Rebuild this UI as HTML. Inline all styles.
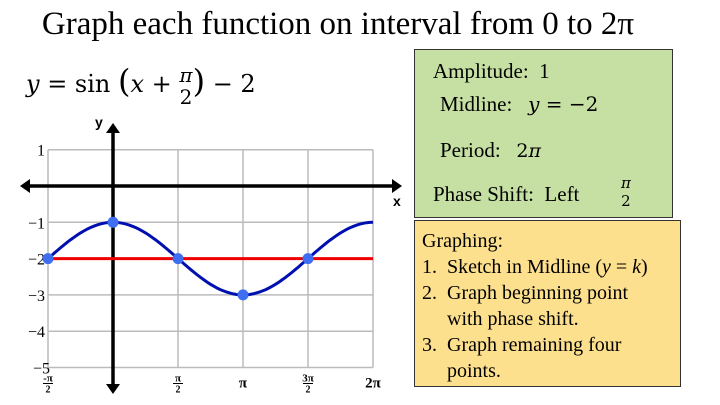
<!DOCTYPE html>
<html><head><meta charset="utf-8"><style>
body{margin:0;width:720px;height:405px;background:#fff;overflow:hidden;position:relative;font-family:"Liberation Serif",serif;}
.abs{position:absolute;}
</style></head><body>
<div class="abs" style="left:0;width:676px;top:6px;text-align:center;font-size:33px;">Graph each function on interval from 0 to 2π</div>
<div class="abs" style="left:26px;top:62px;font-size:24px;font-family:'DejaVu Serif',serif;"><i>y</i> = sin <span style="font-size:32px">(</span><i>x</i> + <span style="display:inline-block;vertical-align:middle;text-align:center;font-size:20px;line-height:22px"><i>π</i><br>2</span><span style="font-size:32px">)</span> − 2</div>
<svg class="abs" style="left:0;top:0" width="720" height="405" id="chart"></svg>
<div class="abs" style="left:414px;top:49px;width:257px;height:167px;background:#c6e0a4;border:1px solid #333;font-size:21px;">
<div class="abs" style="left:18px;top:9px">Amplitude:&nbsp; 1</div>
<div class="abs" style="left:25px;top:42px">Midline:&nbsp;&nbsp; <span style="font-family:'DejaVu Serif',serif;font-size:20px"><i>y</i> = −2</span></div>
<div class="abs" style="left:25px;top:88px">Period:&nbsp;&nbsp; <span style="font-family:'DejaVu Serif',serif;font-size:19px">2<i>π</i></span></div>
<div class="abs" style="left:18px;top:132px">Phase Shift:&nbsp; Left</div>
<div class="abs" style="left:206px;top:124px;font-size:15px;line-height:18px;text-align:center;font-family:'DejaVu Serif',serif"><i>π</i><br>2</div>
</div>
<div class="abs" style="left:414px;top:220px;width:267px;height:167px;background:#fde08e;border:1px solid #333;font-size:20px;line-height:26px;padding:7px 0 0 7px;box-sizing:border-box;">
Graphing:<br>1.&nbsp; Sketch in Midline (<i>y</i> = <i>k</i>)<br>2.&nbsp; Graph beginning point<br>&nbsp;&nbsp;&nbsp;&nbsp; with phase shift.<br>3.&nbsp; Graph remaining four<br>&nbsp;&nbsp;&nbsp;&nbsp; points.
</div>
<script>
const xTickLabels=["-π/2","0","π/2","π","3π/2","2π"];
const xTickValues=[-0.5,0,0.5,1,1.5,2];
const yTickValues=[1,0,-1,-2,-3,-4,-5];
const pointX=[-0.5,0,0.5,1,1.5];
const pointY=[-2,-1,-2,-3,-2];
const amplitude=[1];
const midline=[-2];
const phaseShift=[-0.5];
const NS="http://www.w3.org/2000/svg";
const svg=document.getElementById('chart');
const X=v=>113+v*130;
const Y=v=>186-v*36.3;
function el(t,a,p){const e=document.createElementNS(NS,t);for(const k in a)e.setAttribute(k,a[k]);(p||svg).appendChild(e);return e;}
xTickValues.forEach(v=>{const l=el('line',{x1:X(v),x2:X(v),y1:Y(1),y2:Y(-5),stroke:'#bbb','stroke-width':1.5});

});
yTickValues.forEach(v=>{const l=el('line',{x1:X(-0.5),x2:X(2),y1:Y(v),y2:Y(v),stroke:'#bbb','stroke-width':1.5});

});
const xa=el('line',{x1:26,x2:396,y1:Y(0),y2:Y(0),stroke:'#000','stroke-width':3.5});


el('polygon',{points:`20,${Y(0)} 30,${Y(0)-7} 30,${Y(0)+7}`,fill:'#000'});
el('polygon',{points:`402,${Y(0)} 392,${Y(0)-7} 392,${Y(0)+7}`,fill:'#000'});
const ya=el('line',{x1:X(0),x2:X(0),y1:130,y2:388,stroke:'#000','stroke-width':3.5});


el('polygon',{points:`${X(0)},123 ${X(0)-7},133 ${X(0)+7},133`,fill:'#000'});
el('polygon',{points:`${X(0)},394 ${X(0)-7},384 ${X(0)+7},384`,fill:'#000'});
const tx=el('text',{x:393,y:206,'font-size':14,'font-family':'Liberation Sans,sans-serif','font-weight':'bold'});tx.textContent='x';


const ty=el('text',{x:95,y:127,'font-size':14,'font-family':'Liberation Sans,sans-serif','font-weight':'bold'});ty.textContent='y';


yTickValues.forEach(v=>{if(v===0)return;const t=el('text',{x:v===-5?50:45,y:Y(v)+6,'font-size':16,'text-anchor':'end','font-family':'Liberation Serif,serif'});t.textContent=v<0?'−'+(-v):String(v);

});
xTickValues.forEach((v,i)=>{if(v===0)return;const lab=xTickLabels[i];const g=el('text',{x:X(v),y:Y(-5)+14,'font-size':11,'text-anchor':'middle','font-family':'Liberation Serif,serif','font-weight':'bold'});


if(lab.includes('/')){const [n,d]=lab.split('/');g.textContent=n;el('text',{x:X(v),y:Y(-5)+25,'font-size':10,'text-anchor':'middle','font-family':'Liberation Serif,serif','font-weight':'bold'}).textContent=d;el('line',{x1:X(v)-5,x2:X(v)+5,y1:Y(-5)+16,y2:Y(-5)+16,stroke:'#000'});}else{g.textContent=lab;g.setAttribute('y',Y(-5)+20);g.setAttribute('font-size',15);}});
const ml=el('line',{x1:X(-0.5),x2:X(2),y1:Y(midline[0]),y2:Y(midline[0]),stroke:'#e00',"stroke-width":3});


let d='';for(let i=0;i<=100;i++){const v=-0.5+2.5*i/100;d+=(i?'L':'M')+X(v).toFixed(1)+','+Y(midline[0]+amplitude[0]*Math.sin(Math.PI*(v-phaseShift[0]))).toFixed(1);}
const c=el('path',{d:d,fill:'none',stroke:'#0010b0','stroke-width':3});


pointX.forEach((v,i)=>{const p=el('circle',{cx:X(v),cy:Y(pointY[i]),r:5.5,fill:'#3f6ff0'});

});
</script>
</body></html>
